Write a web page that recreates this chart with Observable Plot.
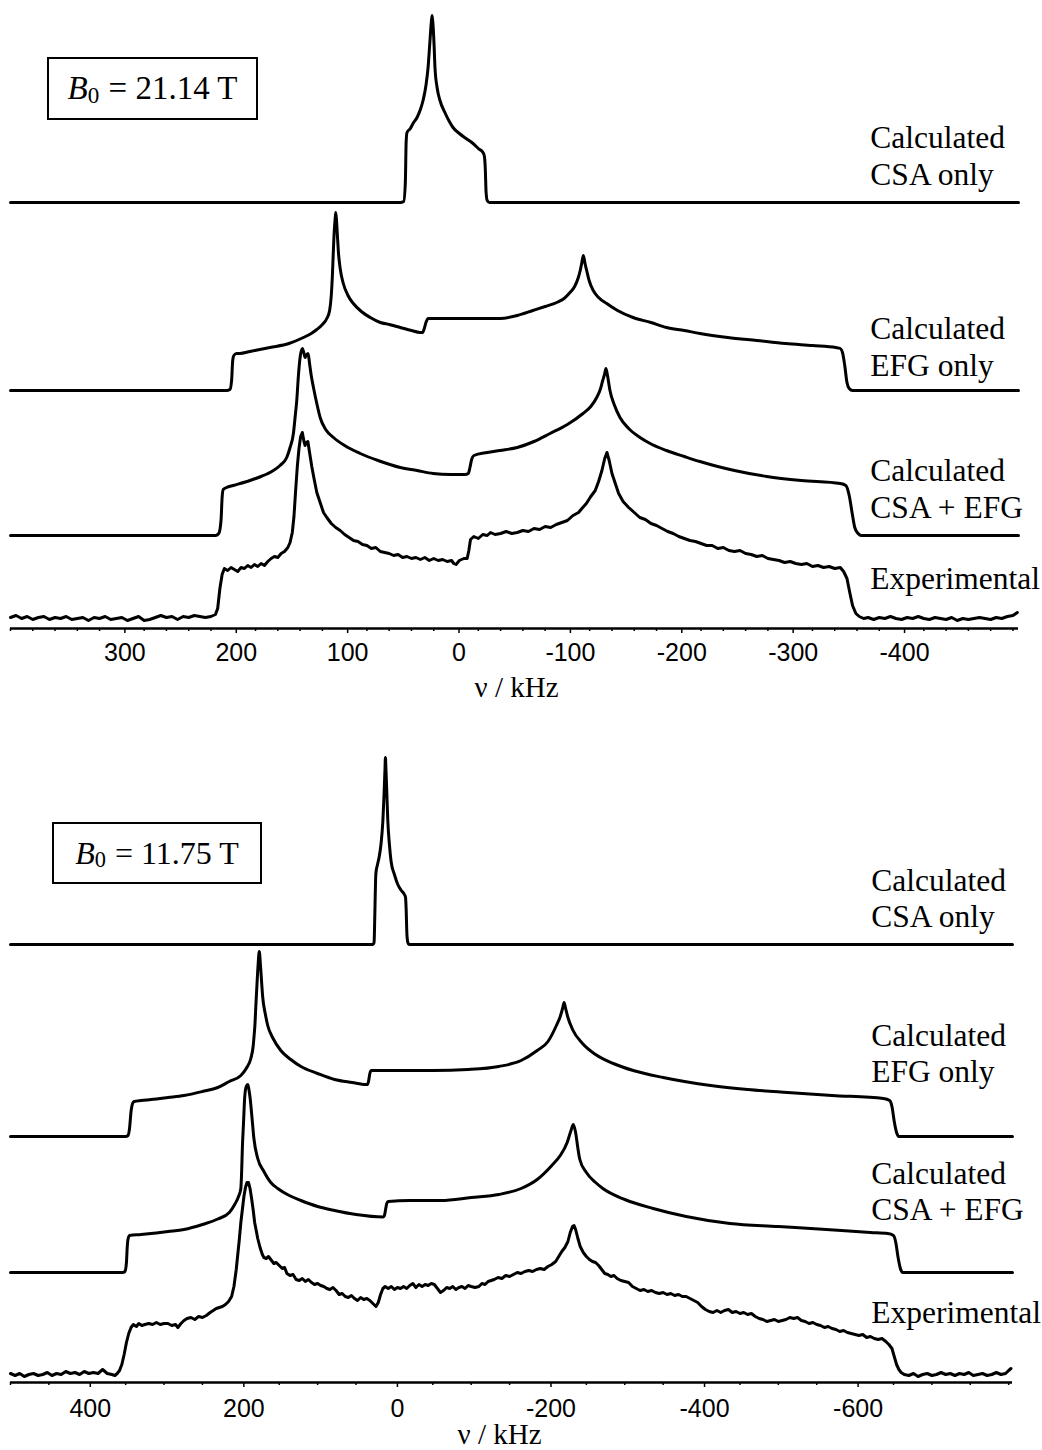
<!DOCTYPE html>
<html><head><meta charset="utf-8">
<script src="https://cdn.jsdelivr.net/npm/d3@7"></script>
<script src="https://cdn.jsdelivr.net/npm/@observablehq/plot@0.6"></script>
<style>
body{margin:0;background:#fff;}
#page{position:relative;width:1042px;height:1450px;overflow:hidden;background:#fff;}
.panel{position:absolute;left:0;}
.box{position:absolute;box-sizing:border-box;border:2px solid #000;display:flex;align-items:center;justify-content:center;font-family:"Liberation Serif","Times New Roman",serif;font-size:32px;color:#000;white-space:pre;}
.box sub{font-size:0.7em;position:relative;top:0.3em;vertical-align:baseline;line-height:0;margin-right:1px;}
</style></head><body>
<div id="page">
<div id="top" class="panel" style="top:0"></div>
<div id="bottom" class="panel" style="top:720px"></div>
<div class="box" style="left:47px;top:57px;width:211px;height:63px;font-size:33px"><i>B</i><sub>0</sub> = 21.14 T</div>
<div class="box" style="left:52px;top:822px;width:210px;height:62px"><i>B</i><sub>0</sub> = 11.75 T</div>
</div>
<script>
// ---------- labels ----------
const seriesLabels = ["Calculated\nCSA only", "Calculated\nEFG only", "Calculated\nCSA + EFG", "Experimental"];
const axisTitle = "ν / kHz";
const fieldLabels = ["B0 = 21.14 T", "B0 = 11.75 T"];

// ---------- top panel (21.14 T): [frequency kHz, intensity] ----------
const topCSA = [[400,0],[50,0],[47,1],[45.5,20],[44.8,60],[44,70],[41,74],[38.6,79],[35,85],[32,93],[29.6,102],[27,117],[25.1,135],[23.5,160],[22.2,180],[21.5,187],[20.8,180],[19.8,160],[18.9,135],[17,115],[14.4,102],[10,90],[6,81],[2.7,75],[-3,69],[-9,64],[-15.3,59],[-20,54],[-24.2,50],[-25.5,46],[-26.3,33],[-27,10],[-28,2],[-30,0],[-505,0]];
const topEFG = [[400,0],[206,0],[203,1],[201.5,10],[200.5,30],[199.5,35],[197,37],[194,37],[185,39],[167,43],[150,47],[137,53],[130,57],[125,61],[120,66],[116,72],[113.5,80],[112,95],[111,115],[110.3,135],[109.3,160],[108.5,172],[108,178],[107.3,170],[106.5,155],[105.7,140],[104,122],[101.2,107],[97,95],[92.2,87],[85,79],[77,73],[68,68],[60,66],[50,63],[40,60],[32.3,58],[30,58],[28.5,62],[27,68],[25,72],[10,72],[0,72],[-20,72],[-39.5,72],[-55,75],[-69,80],[-80,84],[-90.4,88],[-97,92],[-102.3,98],[-106.5,104],[-109.8,113],[-111.5,120],[-112.8,127],[-114.3,135],[-115.8,127],[-117.3,120],[-119.5,110],[-123.2,100],[-128,93],[-135.3,87],[-145,80],[-158.9,73],[-175,68],[-189,63],[-205,60],[-219,57],[-244,53],[-270,50],[-296,47],[-320,45],[-341,43],[-345,42],[-347,38],[-349,25],[-351,8],[-353,2],[-356,0],[-505,0]];
const topBoth = [[400,0],[216,0],[213,2],[211,15],[210,38],[209,46],[206,48],[200,50],[185,55],[175,59],[164,65],[158,70],[152,78],[149,88],[146,102],[144.5,118],[143,135],[141.5,160],[140,178],[138,187],[136.5,182],[135.5,178],[134,181],[132.8,182],[131.5,172],[130,160],[128,148],[125,132],[122,118],[117,106],[110,98],[100,90],[86,82],[70,75],[50,68],[35,65],[20.6,62],[5,61],[-8,61],[-11,62],[-12.5,68],[-14,76],[-16,80],[-28,83],[-39.5,85],[-55,88],[-70,94],[-84.4,102],[-100,111],[-114,122],[-121,129],[-126.3,138],[-129.5,146],[-131.7,155],[-133.3,161],[-134.6,167],[-136,160],[-138.2,145],[-142,131],[-147.2,118],[-155,107],[-165.2,98],[-176,91],[-189,85],[-205,79],[-219,74],[-235,69],[-250,65],[-279,59],[-310,55],[-345,52],[-350,50],[-353,40],[-356,20],[-358,8],[-361,2],[-364,0],[-505,0]];
const topExp = [[400,1],[395,3],[390,0],[385,2],[380,-1],[375,1],[370,2],[365,-1],[360,1],[355,0],[350,2],[345,-1],[340,0],[335,1],[330,-2],[325,1],[320,0],[315,2],[310,-1],[305,0],[300,1],[295,-2],[290,0],[285,2],[280,-2],[275,-1],[270,1],[265,3],[260,1],[255,2],[250,-1],[245,2],[240,1],[235,3],[230,2],[225,1],[220,2],[216,4],[214,10],[212,30],[210,44],[208,50],[205,48],[202,51],[199,49],[196,47],[193,51],[190,50],[187,53],[184,51],[181,54],[178,52],[175,55],[172,53],[169,57],[166,60],[163,62],[160,61],[157,65],[154,67],[151,71],[149,76],[147,86],[145.5,102],[144,128],[142.5,152],[141,170],[139.5,182],[138,186],[136.5,177],[135.5,173],[134.3,176],[133,177],[131.5,166],[129.5,152],[127.5,140],[125,126],[122,116],[119,106],[116,101],[112,95],[108,91],[104,88],[100,84],[96,81],[92,78],[88,77],[84,74],[80,73],[76,70],[72,71],[68,67],[64,66],[60,65],[56,63],[52,64],[48,61],[44,62],[40,60],[36,61],[32,59],[28,61],[24,58],[20,60],[16,58],[12,59],[8,57],[4,58],[2,55],[0,54],[-3,58],[-7,60],[-10,60],[-11.5,68],[-13,79],[-16,82],[-20,80],[-24,84],[-28,83],[-31,86],[-35,84],[-40,85],[-45,87],[-50,85],[-55,86],[-60,88],[-65,87],[-70,90],[-75,89],[-80,92],[-85,91],[-90,94],[-95,96],[-100,98],[-105,103],[-110,106],[-113,110],[-117,115],[-121,122],[-125,128],[-128,137],[-131,148],[-133.5,160],[-135.5,166],[-137.5,158],[-140,145],[-143,135],[-146,125],[-150,117],[-155,111],[-160,106],[-165,101],[-170,99],[-175,95],[-180,93],[-185,90],[-190,87],[-195,85],[-200,82],[-205,80],[-210,78],[-215,77],[-220,75],[-225,73],[-230,73],[-235,70],[-240,71],[-245,68],[-250,67],[-255,68],[-260,65],[-265,64],[-270,62],[-275,63],[-280,60],[-285,59],[-290,58],[-295,56],[-300,57],[-305,55],[-310,54],[-315,55],[-320,52],[-325,53],[-330,51],[-335,52],[-340,50],[-345,51],[-348,47],[-351,40],[-353.5,26],[-356,13],[-359,5],[-362,2],[-366,0],[-370,1],[-375,-1],[-380,1],[-385,0],[-390,2],[-395,0],[-400,-1],[-405,1],[-410,0],[-415,2],[-420,0],[-425,-1],[-430,1],[-435,0],[-440,-1],[-445,1],[-450,-2],[-455,0],[-460,-1],[-465,0],[-470,1],[-475,0],[-480,-1],[-485,1],[-490,0],[-495,2],[-500,3],[-504,6]];

// ---------- bottom panel (11.75 T) ----------
const botCSA = [[500,0],[28,0],[26.5,2],[25.5,30],[24.5,65],[24,72],[22,80],[20,87],[17.5,100],[15,124],[13.5,150],[12.3,175],[11.7,187],[11,175],[9.8,150],[8.6,124],[6.5,100],[4.3,83],[0,70],[-4.4,60],[-9,54],[-13,50],[-14.5,47],[-15.3,35],[-16.3,10],[-17.5,2],[-19,0],[-805,0]];
const botEFG = [[500,0],[350,0],[347,1],[345,8],[343,25],[341,33],[339,35],[330,36],[317,37],[295,39],[274,41],[250,45],[230,49],[215,55],[200,61],[193,68],[187,78],[184,90],[182.5,103],[181.7,111],[180.5,130],[179,152],[177.5,172],[176,185],[174.5,172],[173,155],[171.6,140],[168,122],[165,111],[158,98],[148,86],[135,77],[121.7,70],[100,63],[78,57],[55,54],[37,52],[35,52],[33.5,56],[32,63],[30,66],[0,66],[-50,66],[-96,67],[-136,70],[-165,76],[-186,86],[-200,95],[-211,111],[-216,120],[-219,128],[-221,134],[-223,128],[-226,119],[-232,107],[-245,93],[-262,82],[-285,73],[-311,66],[-350,59],[-412,51],[-460,47],[-512,44],[-570,41],[-637,38],[-645,36],[-648,30],[-651,15],[-654,4],[-657,0],[-805,0]];
const botBoth = [[500,0],[354,0],[351,1],[349,10],[348,25],[347,33],[345,37],[330,38],[317,39],[295,41],[274,43],[250,48],[230,53.5],[215,60],[208,68],[203,76],[200,84],[199,100],[198,125],[196.5,150],[195,175],[193,186],[191,188],[189.5,183],[188,175],[185.5,155],[183,134],[178,114],[170,101],[161,90],[152,84],[137,77],[121.7,72],[100,66],[78,62],[50,58],[15,55.5],[13,57],[11.5,63],[10,69],[8,71],[-20,72],[-61,72],[-100,75],[-136,78],[-165,84],[-186,93],[-205,107],[-216,117],[-225,130],[-230,142],[-233,148],[-236,140],[-239,124],[-241.5,113],[-250,100],[-262,90],[-271.5,84],[-300,73],[-337,64],[-380,56],[-437,49],[-500,46],[-562.5,43],[-620,40],[-642.6,39],[-650,37],[-653,30],[-656,15],[-659,4],[-662,0],[-805,0]];
const botExp = [[500,1],[494,-1],[488,1],[482,-2],[476,0],[470,1],[464,-1],[458,0],[452,2],[446,-1],[440,1],[434,0],[428,3],[422,1],[416,2],[410,0],[404,3],[398,1],[392,2],[386,1],[380,5],[374,1],[368,0],[364,-1],[361,1],[358,4],[355,10],[352,20],[349,32],[346,41],[343,47],[340,50],[336,48],[333,51],[329,49],[325,50],[320,51],[315,50],[310,52],[305,50],[300,51],[295,51],[290,49],[285,50],[282,47],[278,51],[274,54],[270,56],[265,57],[260,55],[255,58],[250,57],[245,59],[240,62],[236,64],[232,66],[228,67],[224,68],[220,70],[216,73],[212,78],[209,88],[206,105],[204,120],[202,135],[200,152],[198,165],[196,178],[194,187],[192,192],[190,192],[188,186],[186,176],[184,165],[182,152],[180,144],[178,136],[175,127],[172,120],[170,117],[167,116],[164,118],[160,114],[157,111],[154,112],[150,109],[146,106],[143,107],[140,101],[136,99],[132,100],[128,95],[124,94],[120,96],[116,93],[112,95],[108,92],[104,90],[100,91],[96,89],[92,88],[88,86],[84,85],[80,87],[76,84],[72,80],[68,81],[64,78],[60,77],[56,79],[52,76],[48,74],[44,77],[40,75],[36,76],[32,74],[28,71],[24,68],[21,72],[18,80],[15,86],[12,88],[8,86],[4,88],[0,85],[-4,87],[-8,86],[-12,88],[-16,86],[-20,89],[-24,91],[-28,87],[-32,90],[-36,88],[-40,90],[-44,89],[-48,91],[-52,90],[-56,86],[-60,82],[-64,84],[-68,87],[-72,86],[-76,88],[-80,85],[-84,87],[-88,88],[-92,86],[-96,89],[-100,88],[-105,87],[-110,88],[-114,91],[-118,90],[-122,93],[-126,94],[-130,95],[-135,97],[-140,96],[-145,99],[-150,98],[-155,100],[-160,102],[-165,101],[-170,103],[-175,104],[-180,103],[-185,105],[-190,106],[-195,105],[-200,108],[-205,110],[-210,113],[-214,118],[-218,123],[-222,127],[-226,133],[-229,142],[-232,148],[-234,149],[-236,145],[-239,136],[-242,128],[-246,122],[-250,118],[-254,115],[-258,113],[-262,112],[-266,109],[-270,105],[-274,101],[-278,100],[-282,98],[-286,99],[-290,96],[-295,94],[-300,93],[-305,92],[-310,88],[-315,86],[-320,84],[-325,85],[-330,83],[-335,84],[-340,82],[-345,81],[-350,82],[-355,80],[-360,81],[-365,79],[-370,80],[-375,78],[-380,78],[-385,76],[-390,74],[-395,72],[-400,68],[-405,65],[-410,63],[-415,62],[-420,64],[-425,62],[-430,64],[-435,65],[-440,62],[-445,63],[-450,61],[-455,62],[-460,60],[-465,61],[-470,58],[-475,56],[-480,55],[-485,53],[-490,54],[-495,55],[-500,53],[-505,54],[-510,55],[-515,57],[-520,56],[-525,57],[-530,54],[-535,53],[-540,51],[-545,52],[-550,50],[-555,49],[-560,47],[-565,48],[-570,46],[-575,45],[-580,43],[-585,44],[-590,42],[-595,41],[-600,40],[-605,39],[-610,40],[-615,37],[-620,38],[-625,36],[-630,35],[-635,36],[-640,33],[-644,30],[-648,26],[-651,18],[-654,10],[-657,5],[-660,2],[-664,0],[-670,-1],[-676,1],[-682,-2],[-688,0],[-694,1],[-700,-1],[-706,0],[-712,2],[-718,0],[-724,1],[-730,-1],[-736,1],[-742,0],[-748,2],[-754,-1],[-760,0],[-766,1],[-772,-1],[-778,0],[-784,2],[-790,0],[-796,1],[-800,4],[-803,6]];

// ---------- axes ----------
const topMajorTicks = [300,200,100,0,-100,-200,-300,-400];
const topMinorTicks = [400,380,360,340,320,280,260,240,220,180,160,140,120,80,60,40,20,-20,-40,-60,-80,-120,-140,-160,-180,-220,-240,-260,-280,-320,-340,-360,-380,-420,-440,-460,-480,-500];
const botMajorTicks = [400,200,0,-200,-400,-600];
const botMinorTicks = [500,450,350,300,250,150,100,50,-50,-100,-150,-250,-300,-350,-450,-500,-550,-650,-700,-750,-800];

// stacking of the four traces (intensity units above the axis) and label lift
const topOffsets = [426, 238, 93, 10];
const botOffsets = [438, 246, 110, 8];
const topLabelLift = [18, 15, 18, 30];
const botLabelLift = [18, 55, 53, 52];

const serif = "'Liberation Serif','Times New Roman',Times,serif";
const sans = "'Liberation Sans Narrow','Liberation Sans',Arial,sans-serif";

function panel(cfg) {
  const marks = [];
  cfg.series.forEach((s, i) => {
    marks.push(Plot.line(s, {
      x: d => d[0], y: d => d[1] + cfg.offsets[i],
      stroke: "#000", strokeWidth: 3, strokeLinejoin: "round", strokeLinecap: "round",
      curve: i === 3 ? "linear" : "monotone-x"
    }));
  });
  marks.push(Plot.text(seriesLabels.map((t, i) => ({t, y: cfg.offsets[i] + cfg.lift[i]})), {
    x: () => cfg.labelX, y: "y", text: "t", textAnchor: "start", lineAnchor: "bottom",
    lineHeight: cfg.lineHeight, fontFamily: serif, fontSize: 31.5, fill: "#000"
  }));
  marks.push(Plot.ruleY([0], {stroke: "#000", strokeWidth: 2.4}));
  marks.push(Plot.axisX({ticks: cfg.minor, tickSize: 3, tickFormat: () => "", label: null, stroke: "#000", strokeWidth: 1.5}));
  marks.push(Plot.axisX({ticks: cfg.major, tickSize: 5, tickPadding: cfg.tickPadding, tickFormat: d => String(d),
    label: null, fontSize: 25, fontFamily: sans, dx: 3, stroke: "#000", strokeWidth: 1.5, fill: "#000"}));
  marks.push(Plot.text([axisTitle], {text: d => d, frameAnchor: "bottom", lineAnchor: "bottom",
    dy: cfg.titleDy, dx: cfg.titleDx, fontFamily: serif, fontSize: 29, fill: "#000"}));
  return Plot.plot({
    width: 1042, height: cfg.height,
    marginLeft: 10, marginRight: cfg.marginRight, marginTop: 0, marginBottom: cfg.marginBottom,
    x: {domain: cfg.xDomain, axis: null},
    y: {domain: [0, cfg.yTop], axis: null},
    style: {background: "white", color: "#000", overflow: "visible"},
    marks
  });
}

document.getElementById("top").append(panel({
  series: [topCSA, topEFG, topBoth, topExp], offsets: topOffsets, lift: topLabelLift,
  labelX: -372, lineHeight: 1.15, height: 720, marginBottom: 92, marginRight: 24,
  xDomain: [400, -505], yTop: 628, major: topMajorTicks, minor: topMinorTicks,
  tickPadding: 10, titleDy: 68, titleDx: 2
}));
document.getElementById("bottom").append(panel({
  series: [botCSA, botEFG, botBoth, botExp], offsets: botOffsets, lift: botLabelLift,
  labelX: -621, lineHeight: 1.12, height: 730, marginBottom: 68, marginRight: 30,
  xDomain: [500, -805], yTop: 662, major: botMajorTicks, minor: botMinorTicks,
  tickPadding: 12, titleDy: 61, titleDx: -12
}));
</script>
</body></html>
